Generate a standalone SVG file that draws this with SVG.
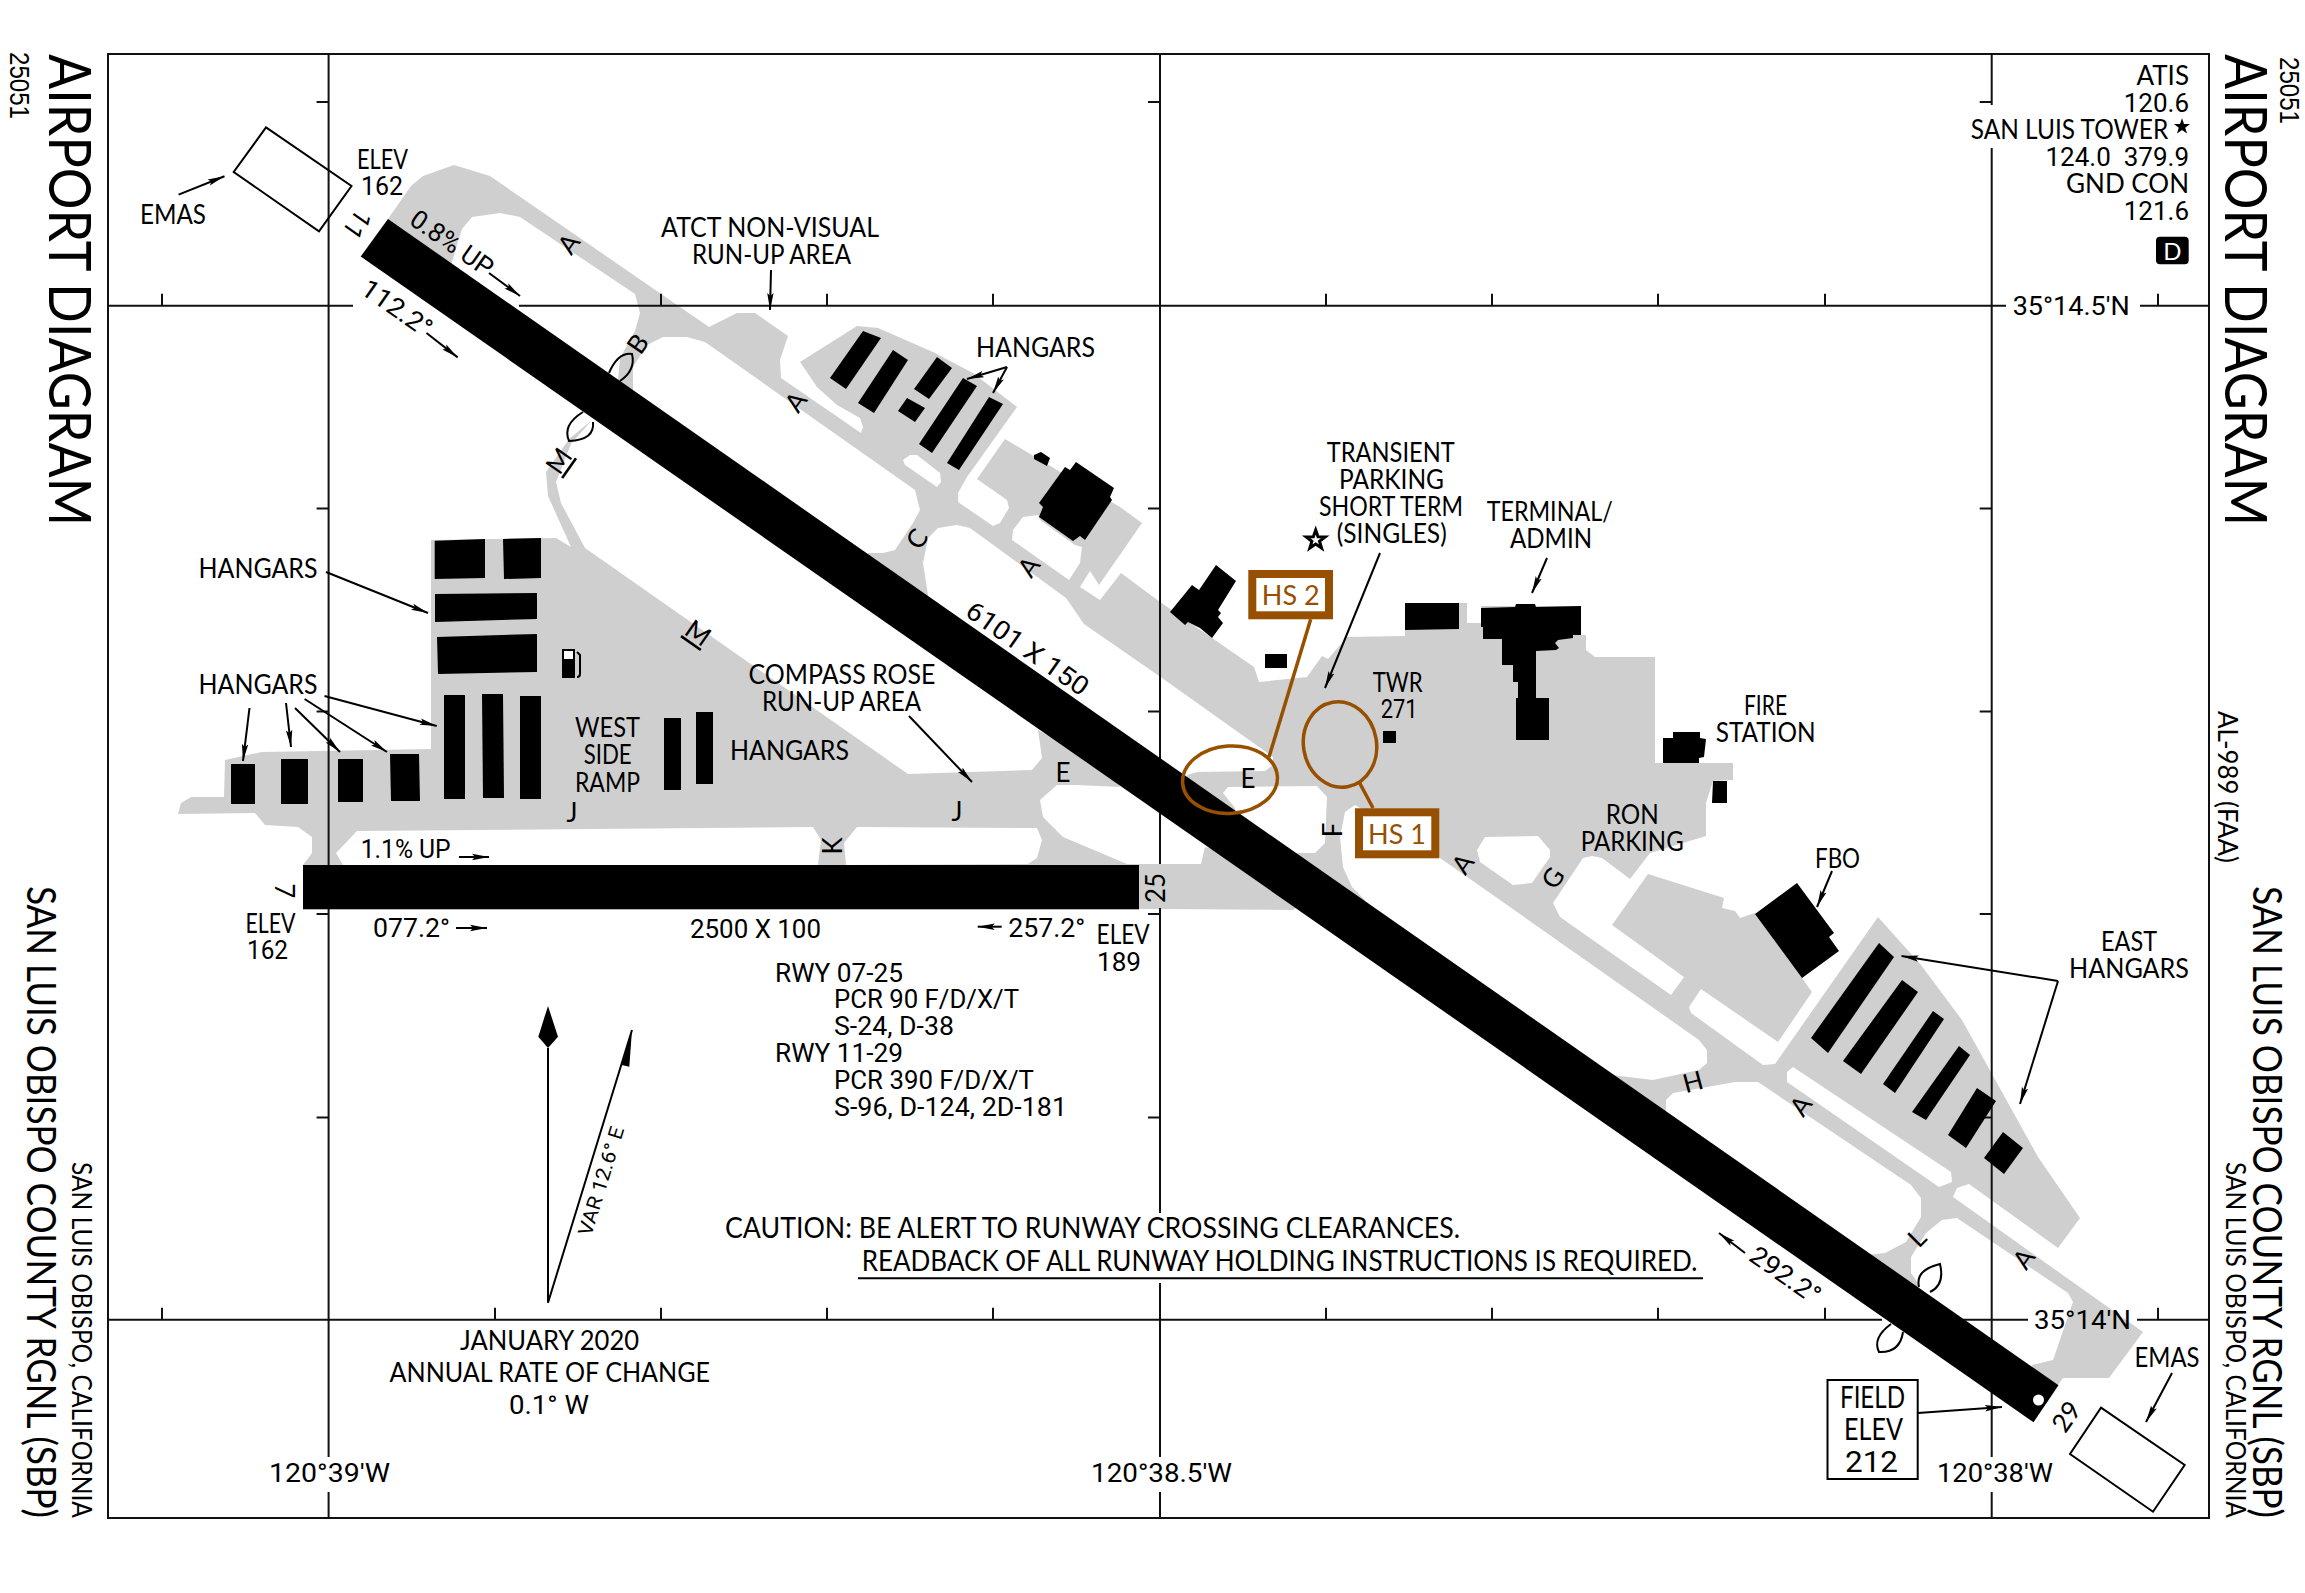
<svg xmlns="http://www.w3.org/2000/svg" width="2305" height="1593" viewBox="0 0 2305 1593">
<style>
text{font-family:Lato,"Liberation Sans",sans-serif;font-size:26px;fill:#000}
.n{font-family:Roboto,"Liberation Sans",sans-serif}
.c{text-anchor:middle}
.e{text-anchor:end}
.big{font-size:58px}
.gr{stroke:#111;stroke-width:2;fill:none}
.ar{stroke:#000;stroke-width:2;fill:none;marker-end:url(#ah)}
.ln{stroke:#000;stroke-width:2;fill:none}
.lens{stroke:#000;stroke-width:2;fill:none}
.ap{fill:#cfcfcf}
.is{fill:#fff}
.bl{fill:#000}
.hs{fill:#fff;stroke:#965000;stroke-width:8}
.hl{stroke:#965000;stroke-width:3.5;fill:none}
.hst{fill:#965000;font-size:27px}
</style>
<defs>
<marker id="ah" markerUnits="userSpaceOnUse" markerWidth="18" markerHeight="8" refX="17" refY="4" orient="auto"><path d="M0 .8L17 4L0 7.2L3 4z" fill="#000"/></marker>
<path id="star" d="M0-10L2.35-3.24L9.5-3.1L3.8 1.24L5.9 8.1L0 4L-5.9 8.1L-3.8 1.24L-9.5-3.1L-2.35-3.24z"/>
</defs>
<rect width="2305" height="1593" fill="#fff"/>

<g id="pavement">
<polygon class="ap" points="388,219 411,186 423,176 454,165 490,176 709,327 737,313 755,313 788,336 780,360 781,378 861,433 863,427 860,418 837,405 817,387 800,362 857,326 878,328 933,352 973,373 1017,407 967,477 958,493 958,502 993,526 1000,523 1009,508 1007,500 977,479 1005,439 1057,470 1120,507 1142,523 1099,585 1090,571 1080,587 1100,600 1121,573 1160,602 1254,667 1259,682 1307,677 1322,656 1328,659 1347,637 1405,636 1405,603 1467,603 1467,623 1481,623 1481,606 1581,606 1581,635 1586,635 1586,650 1595,657 1655,657 1655,763 1733,763 1733,780 1713,781 1706,803 1706,836 1650,853 1630,879 1602,858 1592,856 1583,858 1553,903 1560,917 1671,995 1684,977 1612,925 1648,874 1724,898 1722,908 1735,911 1740,918 1755,913 1812,992 1778,1042 1701,989 1689,1007 1691,1013 1763,1065 1775,1064 1878,917 1921,965 1962,1020 2038,1157 2080,1218 2058,1248 1969,1184 1957,1188 1953,1197 2143,1332 2109,1378 2063,1378 2058,1385 2046,1404 374,238"/>
<polygon class="ap" points="569,439 546,472 548,496 571,547 556,538 431,540 431,749 262,752 225,760 224,797 191,797 181,803 178,814 255,813 265,825 298,827 312,837 312,853 303,865 303,909 1160,909 1293,910 1300,905 1250,860 1205,847 1201,864 1127,864 1063,837 1043,817 1040,800 1057,785 1077,785 1120,787 1110,770 1038,730 1042,758 1032,770 908,774 585,548 561,503 556,482 571,444 592,420"/>
<polygon class="is" points="452,262 457,245 462,229 472,217 500,213 520,217 635,294 640,313 635,331 620,358 618,380 618,400 452,280"/>
<polygon class="is" points="633,388 633,367 647,345 663,337 687,337 705,342 915,490 920,510 913,523 895,550 883,553 868,553 868,565 633,400"/>
<polygon class="is" points="928,595 923,563 928,538 938,528 957,525 970,528 1066,598 1084,624 1162,678 1273,757 1273,765 1265,771 1197,772 1187,775 1187,790 928,610"/>
<polygon class="is" points="1235,808 1223,793 1228,787 1317,786 1327,797 1325,843 1315,853 1297,853 1297,870 1235,825"/>
<polygon class="is" points="1365,900 1352,887 1343,867 1340,837 1345,812 1355,805 1440,858 1500,900 1699,1040 1707,1050 1707,1063 1699,1070 1653,1080 1612,1075 1612,1090 1365,915"/>
<polygon class="is" points="1477,850 1485,837 1538,836 1550,850 1550,857 1532,883 1513,885 1480,862"/>
<polygon class="is" points="1666,1108 1666,1100 1673,1093 1735,1082 1758,1082 1911,1185 1921,1198 1921,1217 1906,1242 1885,1253 1867,1255 1867,1265 1666,1120"/>
<polygon class="is" points="1787,1072 1793,1067 1951,1172 1952,1182 1939,1187 1787,1082"/>
<polygon class="is" points="1919,1285 1911,1273 1911,1257 1926,1233 1942,1220 1957,1218 2068,1293 2073,1302 2053,1360 2032,1365 2032,1380 1919,1300"/>
<polygon class="is" points="903,460 910,455 917,455 940,473 941,482 937,487 905,465"/>
<polygon class="is" points="1012,540 1013,530 1023,517 1038,515 1040,520 1075,545 1082,547 1080,563 1069,580"/>
<polygon class="is" points="336,853 357,831 813,827 821,840 818,865 343,865"/>
<polygon class="is" points="846,865 844,843 857,827 1037,828 1042,840 1037,858 1028,864"/>
</g>

<g id="grid">
<rect class="gr" x="108" y="54" width="2101" height="1464" stroke-width="2.5"/>
<path class="gr" d="M108 305.8H353M519 305.8H2006M2140 305.8H2209M108 1319.7H1882M1963 1319.7H2028M2137 1319.7H2209"/>
<path class="gr" d="M328.6 54V1457M328.6 1492V1518M1160 54V864M1160 908V1213M1160 1283V1457M1160 1492V1518M1991.7 54V105M1991.7 148V1457M1991.7 1492V1518"/>
<path class="gr" d="M162 293.8V305.8M661 293.8V305.8M827 293.8V305.8M993 293.8V305.8M1326 293.8V305.8M1492 293.8V305.8M1658 293.8V305.8M1825 293.8V305.8M2158 293.8V305.8M162 1307.7V1319.7M495 1307.7V1319.7M661 1307.7V1319.7M827 1307.7V1319.7M993 1307.7V1319.7M1326 1307.7V1319.7M1492 1307.7V1319.7M1658 1307.7V1319.7M1825 1307.7V1319.7M2158 1307.7V1319.7"/>
<path class="gr" d="M316.6 102H328.6M316.6 508.5H328.6M316.6 711.5H328.6M316.6 914H328.6M316.6 1117.5H328.6M1148 102H1160M1148 508.5H1160M1148 711.5H1160M1148 914H1160M1148 1117.5H1160M1979.7 102H1991.7M1979.7 508.5H1991.7M1979.7 711.5H1991.7M1979.7 914H1991.7M1979.7 1117.5H1991.7"/>
</g>

<g id="buildings" class="bl">
<polygon points="434.7,540.7 485,539 485,578 434.7,579"/>
<polygon points="503,539 541,538 541,578 504,579"/>
<polygon points="435,594 537,593 537,619 435,622"/>
<polygon points="437,637 537,634 537,672 438,674"/>
<polygon points="444,695 465,695 465,799 444,799"/>
<polygon points="482,694 503,694 504,798 483,798"/>
<polygon points="520,696 541,696 541,799 520,799"/>
<polygon points="231,764 255,764 255,804 231,804"/>
<polygon points="281,759 308,759 308,804 281,804"/>
<polygon points="338,759 363,759 363,802 338,802"/>
<polygon points="390,754 419,754 420,801 391,801"/>
<polygon points="664,718 681,718 681,790 664,790"/>
<polygon points="696,712 713,712 713,784 696,784"/>
<polygon points="863,331 881,338 846,389 830,378"/>
<polygon points="893,350 908,360 874,413 858,403"/>
<polygon points="937,357 952,368 929,399 914,389"/>
<polygon points="907,398 925,408 915,422 898,411"/>
<polygon points="963,378 977,386 932,453 919,444"/>
<polygon points="989,397 1003,404 959,470 947,463"/>
<polygon points="1034,455 1041,452 1050,458 1047,466 1034,459"/>
<polygon points="1065,467 1070,470 1076,462 1114,488 1110,497 1112,500 1085,540 1080,536 1073,541 1039,517 1043,507 1039,503"/>
<polygon points="1216,565 1236,581 1218,610 1221,613 1218,617 1223,623 1212,638 1200,628 1188,622 1185,625 1170,612 1192,585 1199,590"/>
<rect x="1265" y="654" width="22" height="14"/>
<polygon points="1405,603 1459,603 1459,629 1405,630"/>
<polygon points="1481,608 1515,607 1516,604 1535,604 1536,607 1581,606 1581,635 1573,635 1573,638 1558,640 1555,643 1559,648 1556,650 1536,651 1536,698 1549,698 1549,740 1516,740 1516,698 1518,698 1518,682 1513,682 1513,665 1502,665 1502,639 1483,639 1483,627 1481,627"/>
<rect x="1383" y="731" width="13" height="12"/>
<polygon points="1663,738 1673,738 1673,732 1700,732 1700,738 1706,739 1704,757 1699,758 1699,763 1663,763"/>
<polygon points="1713,781 1727,781 1727,803 1712,803"/>
<polygon points="1797,883 1834,933 1829,937 1839,951 1802,978 1755,914"/>
<polygon points="1879,943 1894,957 1828,1053 1811,1038"/>
<polygon points="1902,980 1918,992 1861,1074 1843,1061"/>
<polygon points="1933,1011 1944,1019 1895,1093 1883,1084"/>
<polygon points="1959,1046 1970,1055 1926,1120 1912,1112"/>
<polygon points="1977,1088 1996,1101 1966,1148 1948,1135"/>
<polygon points="2003,1132 2023,1148 2004,1174 1984,1158"/>
</g>
<g id="fuel">
<rect x="562" y="649" width="13" height="29" fill="#000"/><rect x="564" y="651" width="9" height="8" fill="#fff"/>
<path class="ln" stroke-width="1.5" d="M577 652L580 655V674Q580 677 577 677"/>
</g>

<g id="runways">
<polygon id="rwy-11-29" class="bl" points="388,219 2058.5,1385.3 2033.5,1422.3 360.7,256.5"/>
<circle cx="2038.5" cy="1400" r="5.5" fill="#fff"/>
<rect id="rwy-07-25" class="bl" x="303" y="865" width="836" height="44.3"/>
</g>

<g id="emas">
<polygon class="ln" points="266,127.4 351.5,186 319,231.4 233.7,172"/>
<polygon class="ln" points="2101,1407.7 2184.7,1465 2153,1511.7 2070,1454"/>
</g>
<g id="holdshort">
<path class="lens" d="M609 373Q618 352 632 354Q636 370 620 381"/>
<path class="lens" d="M583 412Q562 425 569 441Q595 440 593 422"/>
<path class="lens" d="M1919 1287Q1915 1270 1940 1264Q1945 1285 1930 1292"/>
<path class="lens" d="M1891 1324Q1872 1338 1879 1352Q1900 1353 1903 1332"/>
</g>

<g id="connectors">
<path class="ar" d="M178.6 194.6L224.5 176.3"/>
<path class="ar" d="M489 273L520 296"/>
<path class="ar" d="M426.5 333L457.7 357.4"/>
<path class="ar" d="M771 270L770 310"/>
<path class="ar" d="M326 572L428 613"/>
<path class="ar" d="M324.5 696L436.7 726"/>
<path class="ar" d="M249.5 708L243 761"/>
<path class="ar" d="M286 703L291 747"/>
<path class="ar" d="M295 708L340 752"/>
<path class="ar" d="M304.6 699L387 752"/>
<path class="ar" d="M459 857L489 857"/>
<path class="ar" d="M456 928L487 928"/>
<path class="ar" d="M1001.7 926.7L977.7 926.7"/>
<path class="ar" d="M909 716L972 782"/>
<path class="ar" d="M1007 367L967 379"/>
<path class="ar" d="M1007 367L993 393"/>
<path class="ar" d="M1380 553L1325 688"/>
<path class="ar" d="M1547 558L1532 593"/>
<path class="ar" d="M1832 871L1817 907"/>
<path class="ar" d="M2058 981L1901.5 956"/>
<path class="ar" d="M2058 981L2020 1104"/>
<path class="ar" d="M1745 1253L1719 1233"/>
<path class="ar" d="M1918 1413L2002 1407"/>
<path class="ar" d="M2172 1373L2146 1422"/>
<path class="ln" d="M858 1278.3H1703"/>
</g>

<g id="hs-2">
<path class="hl" d="M1310.7 619.3L1269 757"/>
<ellipse class="hl" cx="1230" cy="779.7" rx="47.5" ry="33.7" transform="rotate(-4 1230 779.7)"/>
<rect class="hs" x="1252.3" y="574" width="76.7" height="41.3"/>
<text class="hst c" x="1290.7" y="604.5">HS 2</text>
</g>
<g id="hs-1">
<path class="hl" d="M1359 781.7L1373 808"/>
<ellipse class="hl" cx="1340" cy="744.5" rx="36.5" ry="43" transform="rotate(-10 1340 744.5)"/>
<rect class="hs" x="1359" y="812.3" width="76.3" height="42"/>
<text class="hst c" x="1397" y="843.5">HS 1</text>
</g>

<g id="compass">
<path class="ln" d="M548 1048V1302.7L632 1030"/>
<polygon class="bl" points="548,1006 558,1036.7 548,1048 538.3,1036.7"/>
<polygon class="bl" points="632,1030 629.3,1066.7 621.7,1065"/>
<text class="c n" transform="translate(601 1181) rotate(-72.8)" y="7" style="font-size:20px" textLength="113" lengthAdjust="spacingAndGlyphs">VAR 12.6° E</text>
</g>

<g id="labels">
<text class="big" transform="translate(48.5 54) rotate(90)" textLength="472" lengthAdjust="spacingAndGlyphs">AIRPORT DIAGRAM</text>
<text class="big" transform="translate(2225 54) rotate(90)" textLength="472" lengthAdjust="spacingAndGlyphs">AIRPORT DIAGRAM</text>
<text transform="translate(9.5 52) rotate(90)" style="font-family:'Liberation Sans',sans-serif;font-size:27px" textLength="67" lengthAdjust="spacingAndGlyphs">25051</text>
<text transform="translate(2280 57) rotate(90)" style="font-family:'Liberation Sans',sans-serif;font-size:27px" textLength="67" lengthAdjust="spacingAndGlyphs">25051</text>
<text transform="translate(27 886) rotate(90)" style="font-size:40px" textLength="632" lengthAdjust="spacingAndGlyphs">SAN LUIS OBISPO COUNTY RGNL (SBP)</text>
<text transform="translate(2252.5 886) rotate(90)" style="font-size:40px" textLength="632" lengthAdjust="spacingAndGlyphs">SAN LUIS OBISPO COUNTY RGNL (SBP)</text>
<text transform="translate(72 1162) rotate(90)" textLength="356" lengthAdjust="spacingAndGlyphs">SAN LUIS OBISPO, CALIFORNIA</text>
<text transform="translate(2225.6 1162) rotate(90)" textLength="356" lengthAdjust="spacingAndGlyphs">SAN LUIS OBISPO, CALIFORNIA</text>
<text transform="translate(2218 711) rotate(90)" textLength="152" lengthAdjust="spacingAndGlyphs">AL-989 (FAA)</text>

<text x="357" y="168.7" textLength="51" lengthAdjust="spacingAndGlyphs">ELEV</text>
<text class="n" x="361" y="194.6" textLength="42" lengthAdjust="spacingAndGlyphs">162</text>
<text x="140" y="223.8" textLength="66" lengthAdjust="spacingAndGlyphs">EMAS</text>
<text class="c n" transform="translate(357 224.5) rotate(125)" y="9">11</text>
<text class="c n" transform="translate(452 243) rotate(35)" y="9" textLength="95" lengthAdjust="spacingAndGlyphs">0.8% UP</text>
<text class="c n" transform="translate(397 308) rotate(35)" y="9" textLength="80" lengthAdjust="spacingAndGlyphs">112.2°</text>
<text class="c" transform="translate(569 244) rotate(-55)" y="9">A</text>
<text class="c" transform="translate(796 402) rotate(-55)" y="9">A</text>
<text class="c" transform="translate(1029 567) rotate(-55)" y="9">A</text>
<text class="c" transform="translate(1463 864) rotate(-55)" y="9">A</text>
<text class="c" transform="translate(1801 1106) rotate(-55)" y="9">A</text>
<text class="c" transform="translate(2024 1259) rotate(-55)" y="9">A</text>
<text class="c" transform="translate(638 344) rotate(-55)" y="9">B</text>
<text class="c" transform="translate(559 461) rotate(-55)" y="9" style="text-decoration:underline">M</text>
<text class="c" transform="translate(698 633) rotate(35)" y="9" style="text-decoration:underline">M</text>
<text class="c" transform="translate(917 539) rotate(-55)" y="9">C</text>
<text class="c" transform="translate(1553 878) rotate(-55)" y="9">G</text>
<text class="c" transform="translate(1693 1082) rotate(-15)" y="9">H</text>
<text class="c" transform="translate(1917 1238) rotate(-45)" y="9">L</text>
<text class="c" x="1063" y="782">E</text>
<text class="c" x="1248" y="788">E</text>
<text class="c" x="572" y="822">J</text>
<text class="c" x="957" y="821">J</text>
<text class="c" transform="translate(833 846) rotate(-90)" y="9">K</text>
<text class="c" transform="translate(1333 830) rotate(-90)" y="9">F</text>
<text class="c" transform="translate(284 890.7) rotate(90)" y="9">7</text>
<text class="c" transform="translate(1155 888) rotate(-90)" y="10" textLength="30" lengthAdjust="spacingAndGlyphs">25</text>
<text class="c" transform="translate(2066.5 1416.7) rotate(-55)" y="9" textLength="30" lengthAdjust="spacingAndGlyphs">29</text>
<text class="c n" transform="translate(1027.5 648.5) rotate(35)" y="9" textLength="143" lengthAdjust="spacingAndGlyphs">6101 X 150</text>
<text class="c n" transform="translate(1785.5 1275) rotate(35)" y="9" textLength="80" lengthAdjust="spacingAndGlyphs">292.2°</text>

<text x="661" y="236.6" textLength="218" lengthAdjust="spacingAndGlyphs">ATCT NON-VISUAL</text>
<text x="692" y="264" textLength="159" lengthAdjust="spacingAndGlyphs">RUN-UP AREA</text>
<text x="976" y="356.7" textLength="119" lengthAdjust="spacingAndGlyphs">HANGARS</text>
<text x="198.5" y="578.3" textLength="119" lengthAdjust="spacingAndGlyphs">HANGARS</text>
<text x="198.5" y="694" textLength="119" lengthAdjust="spacingAndGlyphs">HANGARS</text>
<text x="730" y="760" textLength="119" lengthAdjust="spacingAndGlyphs">HANGARS</text>
<text x="575" y="737" textLength="65" lengthAdjust="spacingAndGlyphs">WEST</text>
<text x="583.7" y="764.3" textLength="48" lengthAdjust="spacingAndGlyphs">SIDE</text>
<text x="575" y="791.7" textLength="65" lengthAdjust="spacingAndGlyphs">RAMP</text>
<text x="748.5" y="684" textLength="187" lengthAdjust="spacingAndGlyphs">COMPASS ROSE</text>
<text x="762" y="710.7" textLength="159" lengthAdjust="spacingAndGlyphs">RUN-UP AREA</text>
<text x="1326.7" y="462" textLength="128" lengthAdjust="spacingAndGlyphs">TRANSIENT</text>
<text x="1339" y="489" textLength="105" lengthAdjust="spacingAndGlyphs">PARKING</text>
<text x="1319" y="516" textLength="144" lengthAdjust="spacingAndGlyphs">SHORT TERM</text>
<text x="1336.7" y="543" textLength="110" lengthAdjust="spacingAndGlyphs">(SINGLES)</text>
<use href="#star" transform="translate(1315.7 540)" fill="#fff" stroke="#000" stroke-width="3"/>
<text x="1486.7" y="521" textLength="126" lengthAdjust="spacingAndGlyphs">TERMINAL/</text>
<text x="1510" y="547.7" textLength="82" lengthAdjust="spacingAndGlyphs">ADMIN</text>
<text x="1372.7" y="691.7" textLength="50" lengthAdjust="spacingAndGlyphs">TWR</text>
<text class="n" x="1380.7" y="718" textLength="37" lengthAdjust="spacingAndGlyphs">271</text>
<text x="1744" y="715" textLength="43" lengthAdjust="spacingAndGlyphs">FIRE</text>
<text x="1715.7" y="742" textLength="100" lengthAdjust="spacingAndGlyphs">STATION</text>
<text x="1605.7" y="824" textLength="53" lengthAdjust="spacingAndGlyphs">RON</text>
<text x="1580.7" y="851" textLength="103" lengthAdjust="spacingAndGlyphs">PARKING</text>
<text x="1815" y="867.7" textLength="45" lengthAdjust="spacingAndGlyphs">FBO</text>
<text x="2101" y="950.7" textLength="56" lengthAdjust="spacingAndGlyphs">EAST</text>
<text x="2069" y="977.7" textLength="120" lengthAdjust="spacingAndGlyphs">HANGARS</text>
<text class="e" x="2189" y="85">ATIS</text>
<text class="e n" x="2189" y="112.3">120.6</text>
<text x="1970.7" y="139.3" textLength="197.6" lengthAdjust="spacingAndGlyphs">SAN LUIS TOWER</text>
<use href="#star" transform="translate(2182 126.7) scale(.85)" fill="#000"/>
<text class="e n" x="2189" y="166" xml:space="preserve">124.0  379.9</text>
<text class="e" x="2189" y="193">GND CON</text>
<text class="e n" x="2189" y="220">121.6</text>
<rect x="2156" y="236.7" width="32.7" height="27.6" rx="4" fill="#000"/>
<text class="c" x="2172.5" y="259.5" style="fill:#fff;font-size:24px">D</text>
<text class="n" x="2012.7" y="315" textLength="117" lengthAdjust="spacingAndGlyphs">35°14.5′N</text>
<text class="n" x="2034" y="1329" textLength="97" lengthAdjust="spacingAndGlyphs">35°14′N</text>
<text x="2134.5" y="1366.7" textLength="65" lengthAdjust="spacingAndGlyphs">EMAS</text>
<rect class="ln" x="1827.5" y="1380" width="90.2" height="99"/>
<text x="1840" y="1408" style="font-size:30px" textLength="65" lengthAdjust="spacingAndGlyphs">FIELD</text>
<text x="1844" y="1440" style="font-size:30px" textLength="59" lengthAdjust="spacingAndGlyphs">ELEV</text>
<text class="n" x="1845" y="1471.7" style="font-size:30px" textLength="53" lengthAdjust="spacingAndGlyphs">212</text>
<text class="n" x="1937" y="1482" textLength="116" lengthAdjust="spacingAndGlyphs">120°38′W</text>
<text class="n" x="1091" y="1482" textLength="141" lengthAdjust="spacingAndGlyphs">120°38.5′W</text>
<text class="n" x="269" y="1482" textLength="121" lengthAdjust="spacingAndGlyphs">120°39′W</text>
<text class="n" x="360.7" y="857.7" textLength="90" lengthAdjust="spacingAndGlyphs">1.1% UP</text>
<text class="n" x="373" y="936.7" textLength="77" lengthAdjust="spacingAndGlyphs">077.2°</text>
<text class="n" x="690" y="937.7" textLength="131" lengthAdjust="spacingAndGlyphs">2500 X 100</text>
<text class="n" x="1008.3" y="937" textLength="77" lengthAdjust="spacingAndGlyphs">257.2°</text>
<text x="245.4" y="932.7" textLength="50" lengthAdjust="spacingAndGlyphs">ELEV</text>
<text class="n" x="247" y="959" textLength="41" lengthAdjust="spacingAndGlyphs">162</text>
<text x="1096.6" y="944" textLength="53" lengthAdjust="spacingAndGlyphs">ELEV</text>
<text class="n" x="1097" y="971" textLength="44" lengthAdjust="spacingAndGlyphs">189</text>
<text class="n" x="775" y="981.7" textLength="128" lengthAdjust="spacingAndGlyphs">RWY 07-25</text>
<text class="n" x="834" y="1008.3" textLength="185" lengthAdjust="spacingAndGlyphs">PCR 90 F/D/X/T</text>
<text class="n" x="834" y="1035" textLength="120" lengthAdjust="spacingAndGlyphs">S-24, D-38</text>
<text class="n" x="775" y="1062.3" textLength="128" lengthAdjust="spacingAndGlyphs">RWY 11-29</text>
<text class="n" x="834" y="1089" textLength="200" lengthAdjust="spacingAndGlyphs">PCR 390 F/D/X/T</text>
<text class="n" x="834" y="1116" textLength="233" lengthAdjust="spacingAndGlyphs">S-96, D-124, 2D-181</text>
<text x="725" y="1238.3" style="font-size:28px" textLength="735" lengthAdjust="spacingAndGlyphs">CAUTION: BE ALERT TO RUNWAY CROSSING CLEARANCES.</text>
<text x="861.7" y="1270.7" style="font-size:28px" textLength="835.7" lengthAdjust="spacingAndGlyphs">READBACK OF ALL RUNWAY HOLDING INSTRUCTIONS IS REQUIRED.</text>
<text x="460" y="1350" textLength="179" lengthAdjust="spacingAndGlyphs">JANUARY 2020</text>
<text x="389.5" y="1382" textLength="320.5" lengthAdjust="spacingAndGlyphs">ANNUAL RATE OF CHANGE</text>
<text class="n" x="509" y="1414" textLength="80" lengthAdjust="spacingAndGlyphs">0.1° W</text>
</g>
</svg>
